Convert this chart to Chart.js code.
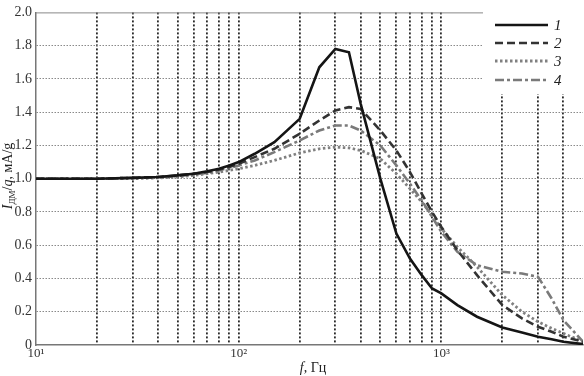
<!DOCTYPE html>
<html>
<head>
<meta charset="utf-8">
<script src="https://cdn.jsdelivr.net/npm/chart.js@4"></script>
<style>
  html, body { margin: 0; padding: 0; background: #fff; }
  #wrap { width: 584px; height: 376px; }
</style>
</head>
<body>
<div id="wrap"><canvas id="chart" width="584" height="376"></canvas></div>
<script>
// frequency points, Hz
const freqs = [10, 20, 30, 40, 50, 60, 70, 80, 90, 100, 120, 150, 200, 250, 300, 350, 400,
               500, 600, 700, 800, 900, 1000, 1200, 1500, 2000, 2500, 3000, 3500, 4000, 5000];

// I_DM / q, mA/g
const curve1 = [1.0, 1.0, 1.005, 1.01, 1.02, 1.03, 1.045, 1.06, 1.08, 1.10, 1.15, 1.22, 1.36, 1.67, 1.78, 1.76, 1.45,
                1.0, 0.67, 0.52, 0.42, 0.34, 0.31, 0.24, 0.17, 0.105, 0.075, 0.05, 0.035, 0.02, 0.005];
const curve2 = [1.0, 1.0, 1.005, 1.01, 1.02, 1.03, 1.04, 1.055, 1.07, 1.09, 1.13, 1.18, 1.27, 1.35, 1.41, 1.43, 1.42,
                1.29, 1.17, 1.04, 0.91, 0.80, 0.71, 0.57, 0.42, 0.24, 0.16, 0.11, 0.08, 0.05, 0.02];
const curve3 = [1.0, 1.0, 1.0, 1.005, 1.01, 1.02, 1.03, 1.04, 1.05, 1.06, 1.08, 1.11, 1.155, 1.18, 1.19, 1.185, 1.17,
                1.12, 1.03, 0.94, 0.86, 0.78, 0.70, 0.59, 0.47, 0.30, 0.20, 0.14, 0.10, 0.07, 0.02];
const curve4 = [1.0, 1.0, 1.005, 1.01, 1.015, 1.025, 1.035, 1.05, 1.065, 1.08, 1.11, 1.16, 1.23, 1.29, 1.32, 1.32, 1.29,
                1.20, 1.08, 0.97, 0.87, 0.77, 0.68, 0.56, 0.48, 0.44, 0.43, 0.41, 0.28, 0.15, 0.02];

const seriesLabels = ['1', '2', '3', '4'];
const xGridValues = [10, 20, 30, 40, 50, 60, 70, 80, 90, 100, 200, 300, 400, 500, 600, 700, 800, 900,
                     1000, 2000, 3000, 4000, 5000];
const xTickLabels = { 10: '10\u00B9', 100: '10\u00B2', 1000: '10\u00B3' };

const serif = "'Liberation Serif', 'DejaVu Serif', serif";

const styles = [
    { color: '#151515', dash: [], width: 2.6 },
    { color: '#333333', dash: [8, 4], width: 2.6 },
    { color: '#808080', dash: [2.5, 2.5], width: 2.8 },
    { color: '#7a7a7a', dash: [9, 3, 3, 3], width: 2.6 }
];

function toPoints(values) {
    return freqs.map((f, i) => ({ x: f, y: values[i] }));
}

// draw a run of text pieces with their own fonts / vertical offsets
function drawRuns(ctx, runs, x, y) {
    let w = 0;
    runs.forEach(r => { ctx.font = r.font; w += ctx.measureText(r.t).width; });
    let cx = x - w / 2;
    runs.forEach(r => {
        ctx.font = r.font;
        ctx.fillText(r.t, cx, y + (r.dy || 0));
        cx += ctx.measureText(r.t).width;
    });
}

const decorPlugin = {
    id: 'decor',
    beforeDatasetsDraw(chart) {
        const { ctx, chartArea } = chart;
        ctx.save();
        // top frame line
        ctx.strokeStyle = '#888';
        ctx.lineWidth = 1;
        ctx.beginPath();
        ctx.moveTo(chartArea.left, chartArea.top + 0.5);
        ctx.lineTo(chartArea.right, chartArea.top + 0.5);
        ctx.stroke();
        // legend background hides grid
        ctx.fillStyle = '#fff';
        ctx.fillRect(483, 11, 101, 83);
        ctx.restore();
    },
    afterDatasetsDraw(chart) {
        const { ctx } = chart;
        ctx.save();
        // legend
        const ys = [25, 43, 61, 80];
        styles.forEach((s, i) => {
            ctx.strokeStyle = s.color;
            ctx.lineWidth = s.width;
            ctx.setLineDash(s.dash);
            ctx.beginPath();
            ctx.moveTo(495, ys[i]);
            ctx.lineTo(548, ys[i]);
            ctx.stroke();
            ctx.setLineDash([]);
            ctx.fillStyle = '#222';
            ctx.font = 'italic 15px ' + serif;
            ctx.textBaseline = 'middle';
            ctx.textAlign = 'left';
            ctx.fillText(seriesLabels[i], 554, ys[i] + 1);
        });

        // axis titles
        ctx.fillStyle = '#222';
        ctx.textBaseline = 'alphabetic';
        ctx.textAlign = 'left';
        drawRuns(ctx, [
            { t: 'f', font: 'italic 14px ' + serif },
            { t: ', Гц', font: '14px ' + serif }
        ], 313, 372);

        ctx.translate(12, 176);
        ctx.rotate(-Math.PI / 2);
        drawRuns(ctx, [
            { t: 'I', font: 'italic 14px ' + serif },
            { t: 'ДМ', font: '9px ' + serif, dy: 3 },
            { t: '/', font: '14px ' + serif },
            { t: 'q', font: 'italic 14px ' + serif },
            { t: ', мА/g', font: '14px ' + serif }
        ], 0, 0);
        ctx.restore();
    }
};

new Chart(document.getElementById('chart'), {
    type: 'line',
    data: {
        datasets: [curve1, curve2, curve3, curve4].map((vals, i) => ({
            label: seriesLabels[i],
            data: toPoints(vals),
            borderColor: styles[i].color,
            borderWidth: styles[i].width,
            borderDash: styles[i].dash,
            pointRadius: 0,
            tension: 0,
            fill: false
        }))
    },
    options: {
        responsive: false,
        animation: false,
        layout: { padding: { top: 7, right: 0, left: 0, bottom: 0 } },
        plugins: { legend: { display: false }, tooltip: { enabled: false } },
        scales: {
            x: {
                type: 'logarithmic',
                min: 10,
                max: 5000,
                afterBuildTicks(scale) {
                    scale.ticks = xGridValues.map(v => ({ value: v }));
                },
                afterFit(scale) { scale.height = 31; },
                ticks: {
                    autoSkip: false,
                    maxRotation: 0,
                    padding: 1,
                    color: '#333',
                    font: { family: serif, size: 13 },
                    callback: v => xTickLabels[v] || ''
                },
                grid: {
                    drawTicks: false,
                    color: c => (c.tick && (c.tick.value === 10 || c.tick.value === 5000)) ? 'rgba(0,0,0,0)' : '#2a2a2a',
                    lineWidth: 1.8
                },
                border: { display: true, color: '#777', width: 1.5, dash: [2, 2] }
            },
            y: {
                min: 0,
                max: 2,
                afterFit(scale) { scale.width = 36; },
                ticks: {
                    stepSize: 0.2,
                    padding: 4,
                    color: '#333',
                    font: { family: serif, size: 14 },
                    callback: v => Math.abs(v) < 1e-9 ? '0' : (Math.round(v * 10) / 10).toFixed(1)
                },
                grid: {
                    drawTicks: false,
                    color: c => (c.tick && (c.tick.value === 0 || Math.abs(c.tick.value - 2) < 1e-9)) ? 'rgba(0,0,0,0)' : '#8a8a8a',
                    lineWidth: 1
                },
                border: { display: true, color: '#777', width: 1.5, dash: [1.5, 1.5] }
            }
        }
    },
    plugins: [decorPlugin]
});
</script>
</body>
</html>
